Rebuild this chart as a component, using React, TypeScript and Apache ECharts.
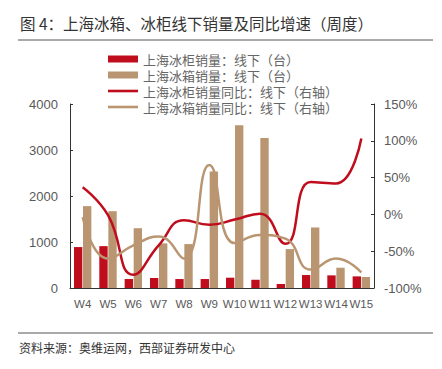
import React, { useEffect, useRef } from "react";
import * as echarts from "echarts";

const weeks = ["W4", "W5", "W6", "W7", "W8", "W9", "W10", "W11", "W12", "W13", "W14", "W15"];
const freezerSales = [890, 910, 195, 217, 195, 195, 224, 181, 87, 282, 275, 253];
const fridgeSales = [1780, 1670, 1300, 970, 955, 2530, 3540, 3260, 846, 1316, 441, 239];
const freezerYoY = [37, -1, -82, -42, -8, -14, -7, 1, -40, 44, 42, 103];
const fridgeYoY = [-4, -60, -42, -30, -60, 67, -39, -28, -33, -75, -60, -79];

const names = [
  "上海冰柜销量：线下（台）",
  "上海冰箱销量：线下（台）",
  "上海冰柜销量同比：线下（右轴）",
  "上海冰箱销量同比：线下（右轴）",
];

const RED = "#C00D1E";
const TAN = "#B99671";
const FONT = "'Liberation Sans', Arial, 'Noto Sans CJK SC', sans-serif";
const CJK = "'Noto Sans CJK SC', sans-serif";

export default function App() {
  const ref = useRef<HTMLDivElement>(null);
  useEffect(() => {
    if (!ref.current) return;
    const chart = echarts.init(ref.current, null, { renderer: "svg" });
    chart.setOption({
      animation: false,
      backgroundColor: "#fff",
      textStyle: { fontFamily: FONT },
      grid: { left: 70, right: 68, top: 104, bottom: 81, containLabel: false },
      legend: {
        orient: "vertical",
        left: 108,
        top: 52,
        padding: 0,
        itemWidth: 30,
        itemHeight: 7,
        itemGap: 2,
        textStyle: { fontSize: 13, color: "#666", fontFamily: CJK, lineHeight: 14 },
        data: [
          { name: names[0], icon: "path://M0,0H30V7H0Z" },
          { name: names[1], icon: "path://M0,0H30V7H0Z" },
          { name: names[2], icon: "path://M0,0H30V2.6H0Z" },
          { name: names[3], icon: "path://M0,0H30V2.6H0Z" },
        ],
      },
      xAxis: {
        type: "category",
        data: weeks,
        axisLine: { lineStyle: { color: "#333", width: 1 } },
        axisTick: { show: false },
        axisLabel: { color: "#595959", fontSize: 11.5, interval: 0, margin: 10 },
      },
      yAxis: [
        {
          type: "value",
          min: 0,
          max: 4000,
          interval: 1000,
          splitLine: { show: false },
          axisLine: { show: true, lineStyle: { color: "#333" } },
          axisTick: { show: true, inside: true, length: 3, lineStyle: { color: "#333" } },
          axisLabel: { color: "#595959", fontSize: 13, margin: 12, formatter: (v: number) => String(v) },
        },
        {
          type: "value",
          min: -100,
          max: 150,
          interval: 50,
          splitLine: { show: false },
          axisLine: { show: true, lineStyle: { color: "#333" } },
          axisTick: { show: true, inside: true, length: 3, lineStyle: { color: "#333" } },
          axisLabel: { color: "#595959", fontSize: 13, margin: 10, formatter: "{value}%" },
        },
      ],
      series: [
        {
          name: names[0],
          type: "bar",
          data: freezerSales,
          barWidth: "33%",
          barGap: "8%",
          itemStyle: { color: RED },
        },
        {
          name: names[1],
          type: "bar",
          data: fridgeSales,
          barWidth: "33%",
          itemStyle: { color: TAN },
        },
        {
          name: names[2],
          type: "line",
          yAxisIndex: 1,
          data: freezerYoY,
          smooth: 0.5,
          symbol: "none",
          lineStyle: { color: RED, width: 2.5 },
          itemStyle: { color: RED },
        },
        {
          name: names[3],
          type: "line",
          yAxisIndex: 1,
          data: fridgeYoY,
          smooth: 0.5,
          symbol: "none",
          lineStyle: { color: TAN, width: 2.5 },
          itemStyle: { color: TAN },
        },
      ],
      graphic: [
        {
          type: "text",
          left: 20,
          top: 15,
          style: {
            text: "图 4：上海冰箱、冰柜线下销量及同比增速（周度）",
            fontSize: 15.5,
            fill: "#333",
            fontFamily: CJK,
          },
        },
        {
          type: "line",
          shape: { x1: 18, y1: 40, x2: 433, y2: 40 },
          style: { stroke: "#555", lineWidth: 1 },
        },
        {
          type: "line",
          shape: { x1: 18, y1: 333, x2: 433, y2: 333 },
          style: { stroke: "#555", lineWidth: 1 },
        },
        {
          type: "text",
          left: 19,
          top: 341,
          style: {
            text: "资料来源：奥维运网，西部证券研发中心",
            fontSize: 12,
            fill: "#333",
            fontFamily: CJK,
          },
        },
      ],
    });
    return () => chart.dispose();
  }, []);
  return <div ref={ref} style={{ width: 442, height: 369, position: "absolute", left: 0, top: 0 }} />;
}
